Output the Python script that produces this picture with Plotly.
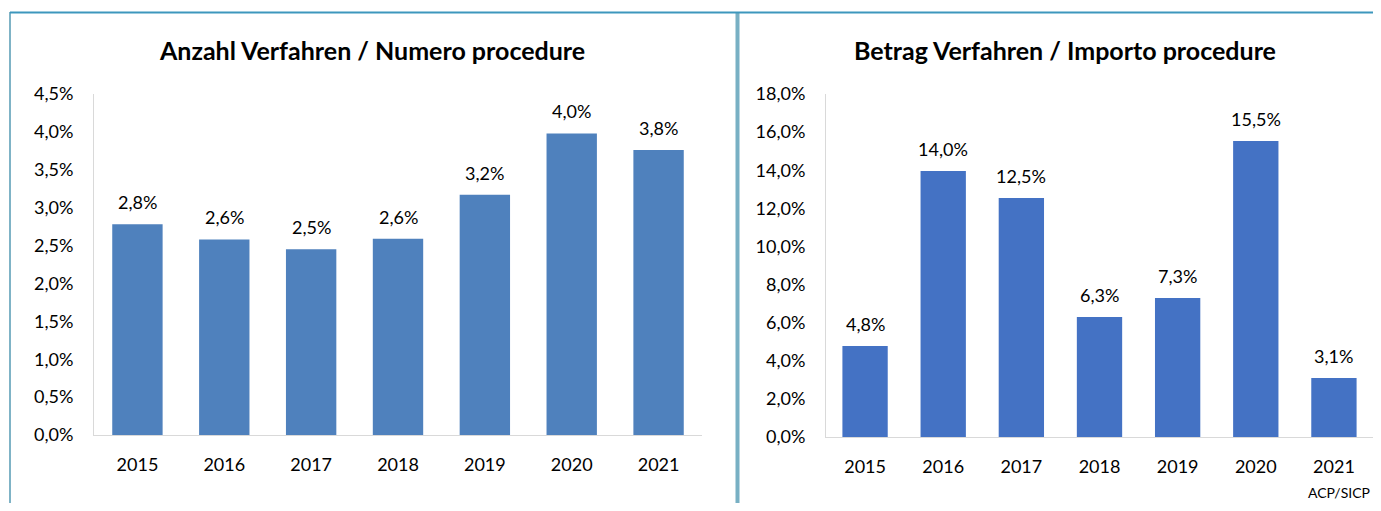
import plotly.graph_objects as go

years = ["2015", "2016", "2017", "2018", "2019", "2020", "2021"]
anzahl = [2.78, 2.58, 2.45, 2.59, 3.17, 3.98, 3.76]
anzahl_labels = ["2,8%", "2,6%", "2,5%", "2,6%", "3,2%", "4,0%", "3,8%"]
betrag = [4.77, 13.96, 12.54, 6.30, 7.29, 15.53, 3.10]
betrag_labels = ["4,8%", "14,0%", "12,5%", "6,3%", "7,3%", "15,5%", "3,1%"]
left_ticks = [0, 0.5, 1, 1.5, 2, 2.5, 3, 3.5, 4, 4.5]
right_ticks = [0, 2, 4, 6, 8, 10, 12, 14, 16, 18]

# page body has an 8px margin in the browser
OFF = 8
W, H = 1381 - 2 * OFF, 511 - 2 * OFF
FONT = "Lato, 'Open Sans', sans-serif"


def px(x):
    return min(1.0, max(0.0, (x - OFF) / W))


def py(y):
    return min(1.0, max(0.0, 1 - (y - OFF) / H))


def pct(v):
    return f"{v:.1f}".replace(".", ",") + "%"


fig = go.Figure()
fig.add_trace(go.Bar(x=years, y=anzahl, marker_color="#4F81BD", width=0.58,
                     xaxis="x", yaxis="y", showlegend=False, hoverinfo="skip"))
fig.add_trace(go.Bar(x=years, y=betrag, marker_color="#4472C4", width=0.58,
                     xaxis="x2", yaxis="y2", showlegend=False, hoverinfo="skip"))

annotations = []
for i, (v, t) in enumerate(zip(anzahl, anzahl_labels)):
    annotations.append(dict(x=i, y=v, xref="x", yref="y", text=t, showarrow=False,
                            xanchor="center", yanchor="bottom", yshift=9,
                            font=dict(size=18, color="#000", family=FONT)))
for i, (v, t) in enumerate(zip(betrag, betrag_labels)):
    annotations.append(dict(x=i, y=v, xref="x2", yref="y2", text=t, showarrow=False,
                            xanchor="center", yanchor="bottom", yshift=9,
                            font=dict(size=18, color="#000", family=FONT)))

annotations.append(dict(x=px(372), y=py(50), xref="paper", yref="paper", showarrow=False,
                        xanchor="center", yanchor="middle",
                        text="<b>Anzahl Verfahren / Numero procedure</b>",
                        font=dict(size=25, color="#000", family=FONT)))
annotations.append(dict(x=px(1065), y=py(50), xref="paper", yref="paper", showarrow=False,
                        xanchor="center", yanchor="middle",
                        text="<b>Betrag Verfahren / Importo procedure</b>",
                        font=dict(size=25, color="#000", family=FONT)))
annotations.append(dict(x=px(1372), y=0, xref="paper", yref="paper", showarrow=False,
                        xanchor="right", yanchor="bottom", text="ACP/SICP",
                        font=dict(size=14, color="#000", family=FONT)))

shapes = [
    dict(type="line", xref="paper", yref="paper", x0=px(10), x1=px(10), y0=py(12), y1=0,
         line=dict(color="#7fb3c6", width=2)),
    dict(type="line", xref="paper", yref="paper", x0=px(737.5), x1=px(737.5), y0=py(12), y1=0,
         line=dict(color="#78b0c4", width=4)),
    dict(type="line", xref="paper", yref="paper", x0=px(10), x1=1, y0=py(12.5), y1=py(12.5),
         line=dict(color="#3d97bd", width=2)),
]

axis_common = dict(showgrid=False, zeroline=False, showline=True, linecolor="#D9D9D9", linewidth=1,
                   tickfont=dict(size=18, color="#000", family=FONT), ticks="outside",
                   tickcolor="rgba(0,0,0,0)", fixedrange=True, automargin=False)

fig.update_layout(
    template="none",
    width=W, height=H, margin=dict(l=0, r=0, t=0, b=0, autoexpand=False),
    paper_bgcolor="white", plot_bgcolor="white",
    bargap=0.42,
    font=dict(family=FONT, color="#000"),
    xaxis=dict(type="category", domain=[px(94), px(702)], anchor="y", ticklen=13, **axis_common),
    yaxis=dict(domain=[py(435), py(94)], anchor="x", range=[0, 4.5], tickmode="array",
               tickvals=left_ticks, ticktext=[pct(v) for v in left_ticks], ticklen=16, **axis_common),
    xaxis2=dict(type="category", domain=[px(826), px(1380)], anchor="y2", ticklen=13, **axis_common),
    yaxis2=dict(domain=[py(437), py(94)], anchor="x2", range=[0, 18], tickmode="array",
                tickvals=right_ticks, ticktext=[pct(v) for v in right_ticks], ticklen=16, **axis_common),
    annotations=annotations, shapes=shapes,
)

fig.write_html("out.html")
